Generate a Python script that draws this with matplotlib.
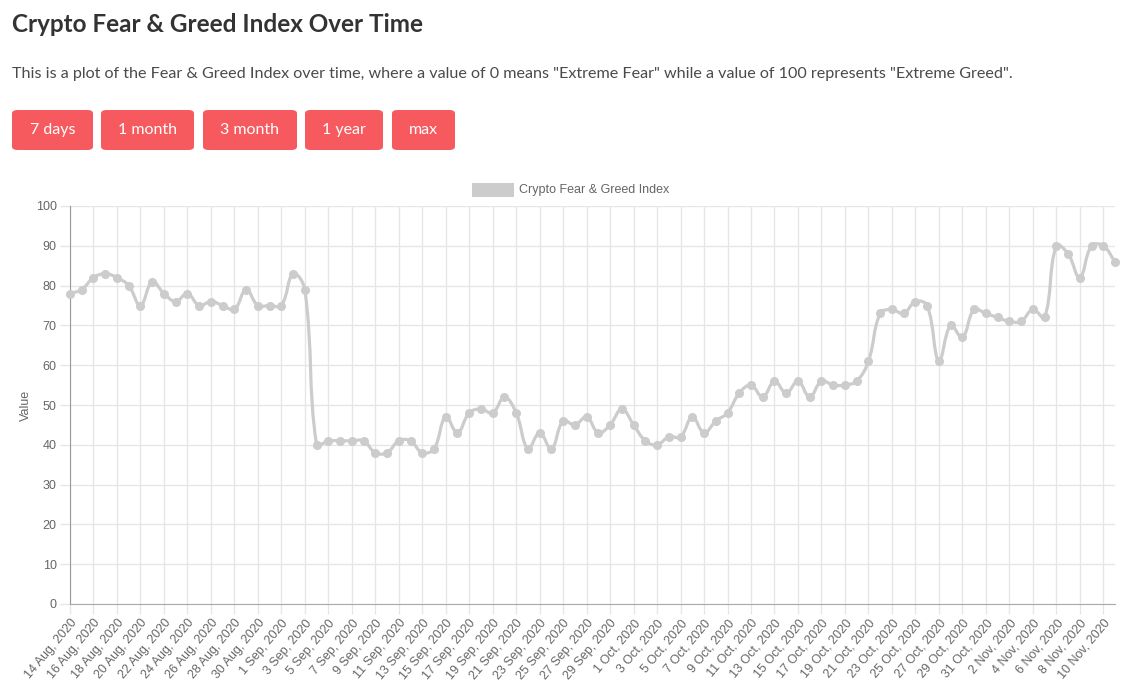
"""Crypto Fear & Greed Index over time (Chart.js look-alike)"""

import datetime as dt
import numpy as np
import matplotlib
matplotlib.use("Agg")
import matplotlib.pyplot as plt
from matplotlib.path import Path
from matplotlib.patches import PathPatch, FancyBboxPatch, Rectangle

# data: one value per day, 14 Aug 2020 .. 11 Nov 2020
start_date = dt.date(2020, 8, 14)
values = [
    78, 79, 82, 83, 82, 80, 75, 81, 78, 76, 78, 75, 76, 75, 74, 79, 75, 75,  # Aug 14-31
    75, 83, 79, 40, 41, 41, 41, 41, 38, 38, 41, 41, 38, 39, 47, 43, 48, 49,  # Sep 1-18
    48, 52, 48, 39, 43, 39, 46, 45, 47, 43, 45, 49,                          # Sep 19-30
    45, 41, 40, 42, 42, 47, 43, 46, 48, 53, 55, 52, 56, 53, 56, 52,          # Oct 1-16
    56, 55, 55, 56, 61, 73, 74, 73, 76, 75, 61, 70, 67, 74, 73,              # Oct 17-31
    72, 71, 71, 74, 72, 90, 88, 82, 90, 90, 86,                              # Nov 1-11
]
dates = [start_date + dt.timedelta(days=i) for i in range(len(values))]
tick_labels = [f"{d.day} {d.strftime('%b')}, {d.year}" for d in dates]
series_name = "Crypto Fear & Greed Index"
buttons = ["7 days", "1 month", "3 month", "1 year", "max"]

W, H = 1140, 681
fig = plt.figure(figsize=(W / 100, H / 100), dpi=100)
fig.patch.set_facecolor("white")

# page header
fig.text(12 / W, 1 - 24 / H, "Crypto Fear & Greed Index Over Time",
         family="Lato", weight="bold", fontsize=17.5, color="#333333", va="center")
fig.text(12 / W, 1 - 74 / H,
         'This is a plot of the Fear & Greed Index over time, where a value of 0 means '
         '"Extreme Fear" while a value of 100 represents "Extreme Greed".',
         family="Lato", fontsize=11.6, color="#4a4a4a", va="center")

btn_x = [(12, 93), (101, 194), (203, 297), (305, 383), (392, 455)]
for label, (x0, x1) in zip(buttons, btn_x):
    fig.patches.append(FancyBboxPatch(
        (x0 / W, 1 - 150 / H), (x1 - x0) / W, 40 / H,
        boxstyle="round,pad=0,rounding_size=0.005", transform=fig.transFigure,
        facecolor="#f65a5f", edgecolor="none"))
    fig.text((x0 + x1) / 2 / W, 1 - 130 / H, label, family="Lato", fontsize=11.5,
             color="white", ha="center", va="center")

# chart area
ax = fig.add_axes([70 / W, 1 - 604 / H, 1045 / W, 398 / H])
n = len(values)
ax.set_xlim(0, n - 1)
ax.set_ylim(0, 100)

grid_c = "#e6e6e6"
ax.set_yticks(range(0, 101, 10))
ax.set_xticks(range(0, n, 2))
ax.set_xticklabels(tick_labels[::2], rotation=50, ha="right", va="top",
                   rotation_mode="anchor")
ax.grid(True, color=grid_c, linewidth=1)
ax.set_axisbelow(True)
ax.tick_params(axis="both", length=7.5, width=1, color=grid_c, labelsize=9,
               labelcolor="#666666", pad=2)
for lbl in ax.get_xticklabels() + ax.get_yticklabels():
    lbl.set_family("Liberation Sans")
for side in ["top", "right"]:
    ax.spines[side].set_visible(False)
ax.spines["left"].set_color("#999999")
ax.spines["bottom"].set_color("#aaaaaa")
ax.set_ylabel("Value", family="Liberation Sans", fontsize=9, color="#666666",
              labelpad=3)

# Chart.js style bezier (tension 0.4), distances in pixel space
x = np.arange(n, dtype=float)
y = np.array(values, dtype=float)
pix = ax.transData.transform(np.column_stack([x, y]))
tension = 0.4
cp_prev = np.zeros((n, 2))
cp_next = np.zeros((n, 2))
for i in range(n):
    p = np.array([x[i], y[i]])
    a = np.array([x[max(i - 1, 0)], y[max(i - 1, 0)]])
    b = np.array([x[min(i + 1, n - 1)], y[min(i + 1, n - 1)]])
    d01 = np.linalg.norm(pix[i] - pix[max(i - 1, 0)])
    d12 = np.linalg.norm(pix[min(i + 1, n - 1)] - pix[i])
    tot = d01 + d12
    s01 = d01 / tot if tot else 0
    s12 = d12 / tot if tot else 0
    cp_prev[i] = p - tension * s01 * (b - a)
    cp_next[i] = p + tension * s12 * (b - a)
cp_prev[:, 1] = np.clip(cp_prev[:, 1], 0, 100)
cp_next[:, 1] = np.clip(cp_next[:, 1], 0, 100)

verts = [(x[0], y[0])]
codes = [Path.MOVETO]
for i in range(n - 1):
    verts += [tuple(cp_next[i]), tuple(cp_prev[i + 1]), (x[i + 1], y[i + 1])]
    codes += [Path.CURVE4] * 3
line_c = "#cccccc"
ax.add_patch(PathPatch(Path(verts, codes), facecolor="none", edgecolor=line_c,
                       linewidth=2.3, capstyle="round", joinstyle="round", zorder=3))
ax.plot(x, y, "o", color=line_c, markersize=5.5, clip_on=False, zorder=4)

# legend (box + label above the plot)
fig.patches.append(Rectangle((472 / W, 1 - 197 / H), 42 / W, 14 / H,
                             transform=fig.transFigure, facecolor=line_c,
                             edgecolor="none"))
fig.text(519 / W, 1 - 189.5 / H, series_name, family="Liberation Sans",
         fontsize=9, color="#666666", va="center")

plt.savefig("out.png", dpi=100)
